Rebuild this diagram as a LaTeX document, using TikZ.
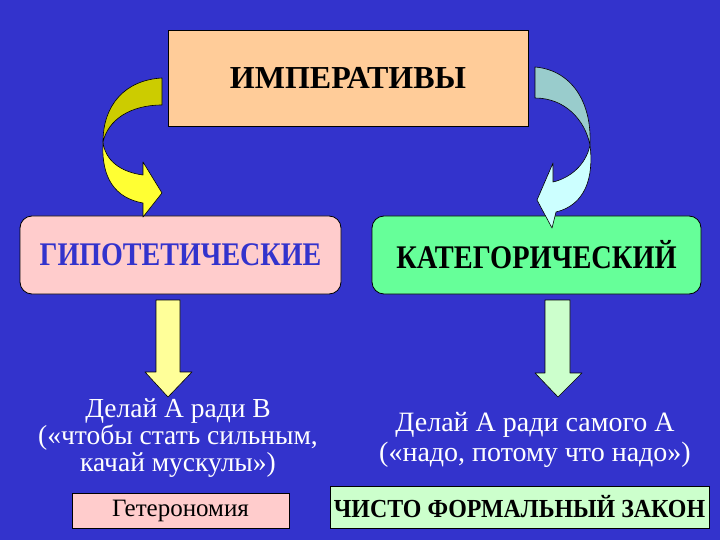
\documentclass[tikz,border=0pt]{standalone}
\usepackage{fontspec}
\setmainfont{Liberation Serif}
\newfontfamily\tnr{Liberation Serif}
\definecolor{bg}{HTML}{3333CC}
\definecolor{peach}{HTML}{FFCC99}
\definecolor{pinkbox}{HTML}{FFCCCC}
\definecolor{greenbox}{HTML}{66FF99}
\definecolor{palegreen}{HTML}{CCFFCC}
\definecolor{paleyellow}{HTML}{FFFF99}
\definecolor{olive}{HTML}{CCCC00}
\definecolor{brightyellow}{HTML}{FFFF33}
\definecolor{teal}{HTML}{99CCCC}
\definecolor{palecyan}{HTML}{CCFFFF}
\begin{document}
\begin{tikzpicture}[x=1pt,y=-1pt,
  box/.style={draw=black, line width=0.8pt, inner sep=0pt, font=\tnr},
  rbox/.style={box, rounded corners=12pt},
  shapearrow/.style={draw=black, line width=0.6pt, line join=round},
  whitetext/.style={text=white, align=center}]
\fill[bg] (0,0) rectangle (720,540);
\useasboundingbox (0,0) rectangle (720,540);

% top box
\node[box, fill=peach, minimum width=360pt, minimum height=96pt] (imp) at (348,78)
  {\fontsize{32}{34}\selectfont\bfseries ИМПЕРАТИВЫ};

% middle boxes
\node[rbox, fill=pinkbox, minimum width=321pt, minimum height=78pt] (hyp) at (180.5,255)
  {\scalebox{0.85}[1]{\fontsize{33}{36}\selectfont\bfseries\color{bg}ГИПОТЕТИЧЕСКИЕ}};
\node[rbox, fill=greenbox, minimum width=329pt, minimum height=78pt] (cat) at (536.5,255)
  {\scalebox{0.86}[1]{\fontsize{33}{36}\selectfont\bfseries КАТЕГОРИЧЕСКИЙ}};

% curved arrow left
\draw[shapearrow, fill=olive] (162,78) .. controls (125,80) and (103,105) .. (103,142)
  .. controls (108,120) and (130,105) .. (162,105) -- cycle;
\draw[shapearrow, fill=brightyellow] (103,142) .. controls (101,178) and (115,198) .. (143,203)
  -- (143,217) -- (162,193) -- (143,162) -- (143,175)
  .. controls (120,172) and (105,160) .. (103,142) -- cycle;

% curved arrow right
\draw[shapearrow, fill=teal] (535,67) .. controls (570,70) and (592,100) .. (590,145)
  .. controls (585,120) and (565,98) .. (535,98) -- cycle;
\draw[shapearrow, fill=palecyan] (590,145) .. controls (594,178) and (585,205) .. (556,212)
  -- (552,228) -- (537,200) -- (553,163) -- (553,182)
  .. controls (570,178) and (586,165) .. (590,145) -- cycle;

% down arrows
\draw[shapearrow, fill=paleyellow] (156,300) -- (180,300) -- (180,372) -- (192,372)
  -- (168,397) -- (145,372) -- (156,372) -- cycle;
\draw[shapearrow, fill=palegreen] (545,300) -- (570,300) -- (570,373) -- (582,373)
  -- (558,397) -- (535,373) -- (545,373) -- cycle;

% texts
\node[whitetext, font=\tnr\fontsize{27.5}{27}\selectfont] (lt) at (178,438)
  {Делай А ради В\\(«чтобы стать сильным,\\качай мускулы»)};
\node[whitetext, font=\tnr\fontsize{28}{30}\selectfont] (rt) at (535,440)
  {Делай А ради самого А\\(«надо, потому что надо»)};

% bottom boxes
\node[box, fill=pinkbox, minimum width=217pt, minimum height=35pt] (het) at (180.5,510.5)
  {\fontsize{25}{26}\selectfont Гетерономия};
\node[box, fill=palegreen, minimum width=379pt, minimum height=42pt] (law) at (519.5,507)
  {\scalebox{0.92}[1]{\fontsize{26}{28}\selectfont\bfseries ЧИСТО ФОРМАЛЬНЫЙ ЗАКОН}};
\end{tikzpicture}
\end{document}
